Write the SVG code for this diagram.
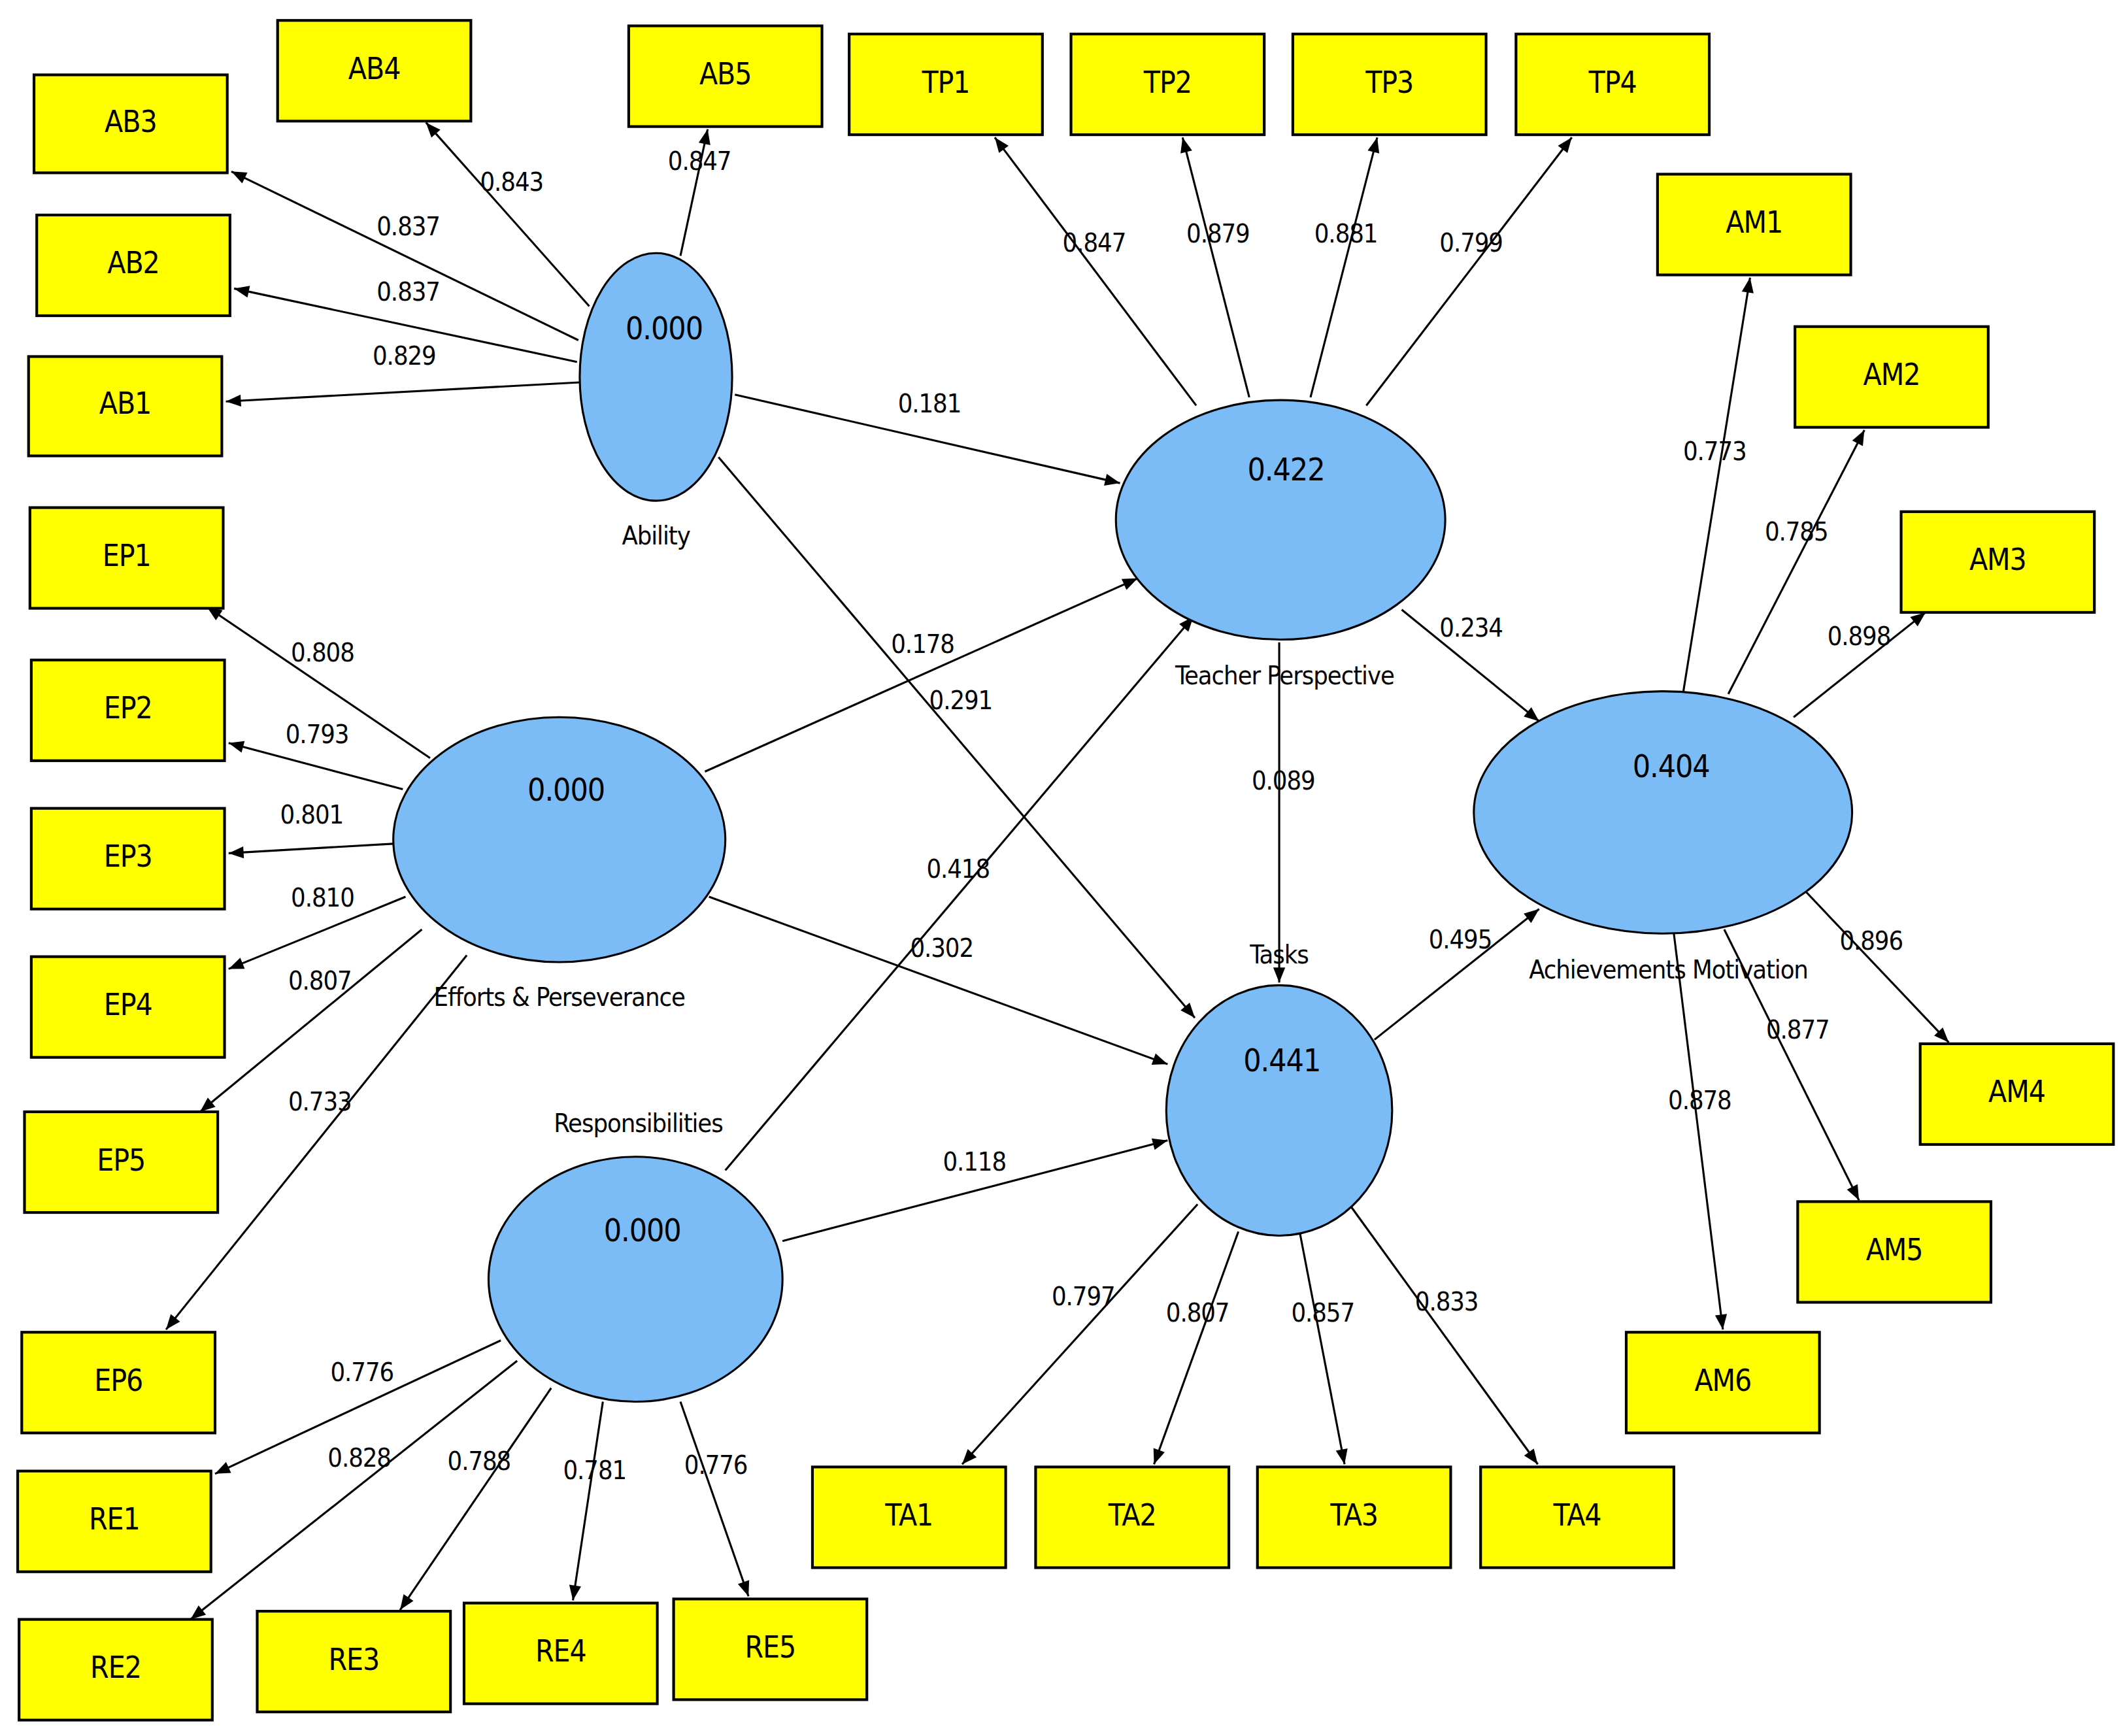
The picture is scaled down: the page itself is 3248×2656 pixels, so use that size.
<svg xmlns="http://www.w3.org/2000/svg" width="3248" height="2656" viewBox="0 0 3248 2656">
<style>
.b{fill:#ffff00;stroke:#000;stroke-width:2}
.e{fill:#7bbcf7;stroke:#000;stroke-width:1.5}
text{font-family:"DejaVu Sans Condensed","Liberation Sans",sans-serif;fill:#000;text-anchor:middle;dominant-baseline:middle;letter-spacing:-0.5px}
.bt{font-size:22px}
.v{font-size:23px}
.l{font-size:19px}
.c line{stroke:#000;stroke-width:1.5;marker-end:url(#a)}
</style>
<defs><marker id="a" viewBox="0 0 10 10" refX="10" refY="5" markerWidth="13" markerHeight="11" markerUnits="userSpaceOnUse" orient="auto"><path d="M0,1 L10,5 L0,9 z" fill="#000"/></marker></defs>
<rect width="3248" height="2656" fill="#fff"/>
<g transform="scale(2.082)">
<g class="c">
<line x1="433" y1="225" x2="313" y2="90"/><line x1="500" y1="188" x2="520" y2="95"/>
<line x1="425" y1="250" x2="170" y2="126"/><line x1="424" y1="266" x2="172" y2="212"/>
<line x1="426" y1="281" x2="166" y2="295"/><line x1="540" y1="290" x2="823" y2="355"/>
<line x1="528" y1="336" x2="878" y2="748"/>
<line x1="316" y1="557" x2="152" y2="446"/><line x1="296" y1="580" x2="168" y2="546"/>
<line x1="289" y1="620" x2="168" y2="627"/><line x1="298" y1="659" x2="168" y2="712"/>
<line x1="310" y1="683" x2="147" y2="817"/><line x1="343" y1="702" x2="122" y2="977"/>
<line x1="518" y1="567" x2="836" y2="425"/><line x1="521" y1="659" x2="858" y2="782"/>
<line x1="879" y1="298" x2="731" y2="101"/><line x1="918" y1="292" x2="869" y2="101"/>
<line x1="963" y1="292" x2="1012" y2="101"/><line x1="1004" y1="298" x2="1155" y2="101"/>
<line x1="1030" y1="448" x2="1131" y2="530"/><line x1="940" y1="472" x2="940" y2="722"/>
<line x1="880" y1="885" x2="707" y2="1076"/><line x1="910" y1="905" x2="848" y2="1076"/>
<line x1="955" y1="905" x2="988" y2="1076"/><line x1="993" y1="887" x2="1130" y2="1076"/>
<line x1="1010" y1="764" x2="1131" y2="668"/>
<line x1="575" y1="912" x2="858" y2="838"/><line x1="533" y1="860" x2="877" y2="453"/>
<line x1="368" y1="985" x2="158" y2="1083"/><line x1="380" y1="1000" x2="140" y2="1190"/>
<line x1="405" y1="1020" x2="294" y2="1183"/><line x1="443" y1="1030" x2="421" y2="1176"/>
<line x1="500" y1="1030" x2="550" y2="1173"/>
<line x1="1237" y1="508" x2="1286" y2="204"/><line x1="1270" y1="510" x2="1370" y2="316"/>
<line x1="1318" y1="527" x2="1415" y2="450"/><line x1="1322" y1="650" x2="1432" y2="766"/>
<line x1="1267" y1="683" x2="1366" y2="882"/><line x1="1230" y1="686" x2="1266" y2="977"/>
</g>
<g class="l">
<text x="376" y="135">0.843</text><text x="514" y="120">0.847</text><text x="300" y="168">0.837</text>
<text x="300" y="216">0.837</text><text x="297" y="263">0.829</text><text x="683" y="298">0.181</text>
<text x="706" y="516">0.291</text><text x="237" y="481">0.808</text><text x="233" y="541">0.793</text>
<text x="229" y="600">0.801</text><text x="237" y="661">0.810</text><text x="235" y="722">0.807</text>
<text x="235" y="811">0.733</text><text x="678" y="475">0.178</text><text x="692" y="698">0.302</text>
<text x="804" y="180">0.847</text><text x="895" y="173">0.879</text><text x="989" y="173">0.881</text>
<text x="1081" y="180">0.799</text><text x="1081" y="463">0.234</text><text x="943" y="575">0.089</text>
<text x="796" y="954">0.797</text><text x="880" y="966">0.807</text><text x="972" y="966">0.857</text>
<text x="1063" y="958">0.833</text><text x="1073" y="692">0.495</text><text x="716" y="855">0.118</text>
<text x="704" y="640">0.418</text><text x="266" y="1010">0.776</text><text x="264" y="1073">0.828</text>
<text x="352" y="1075">0.788</text><text x="437" y="1082">0.781</text><text x="526" y="1078">0.776</text>
<text x="1260" y="333">0.773</text><text x="1320" y="392">0.785</text><text x="1366" y="469">0.898</text>
<text x="1375" y="693">0.896</text><text x="1321" y="758">0.877</text><text x="1249" y="810">0.878</text>
</g>
<g id="ability"><ellipse class="e" cx="482" cy="277" rx="56" ry="91"/><text class="v" x="488" y="243">0.000</text><text class="l" x="482" y="395">Ability</text></g>
<g id="tp"><ellipse class="e" cx="941" cy="382" rx="121" ry="88"/><text class="v" x="945" y="347">0.422</text><text class="l" x="944" y="498">Teacher Perspective</text></g>
<g id="ep"><ellipse class="e" cx="411" cy="617" rx="122" ry="90"/><text class="v" x="416" y="582">0.000</text><text class="l" x="411" y="734">Efforts &amp; Perseverance</text></g>
<g id="am"><ellipse class="e" cx="1222" cy="597" rx="139" ry="89"/><text class="v" x="1228" y="565">0.404</text><text class="l" x="1226" y="714">Achievements Motivation</text></g>
<g id="tasks"><ellipse class="e" cx="940" cy="816" rx="83" ry="92"/><text class="v" x="942" y="781">0.441</text><text class="l" x="940" y="703">Tasks</text></g>
<g id="resp"><ellipse class="e" cx="467" cy="940" rx="108" ry="90"/><text class="v" x="472" y="906">0.000</text><text class="l" x="469" y="827">Responsibilities</text></g>
<g id="AB3"><rect class="b" x="25" y="55" width="142" height="72"/><text class="bt" x="96" y="91">AB3</text></g>
<g id="AB4"><rect class="b" x="204" y="15" width="142" height="74"/><text class="bt" x="275" y="52">AB4</text></g>
<g id="AB5"><rect class="b" x="462" y="19" width="142" height="74"/><text class="bt" x="533" y="56">AB5</text></g>
<g id="AB2"><rect class="b" x="27" y="158" width="142" height="74"/><text class="bt" x="98" y="195">AB2</text></g>
<g id="AB1"><rect class="b" x="21" y="262" width="142" height="73"/><text class="bt" x="92" y="298">AB1</text></g>
<g id="TP1"><rect class="b" x="624" y="25" width="142" height="74"/><text class="bt" x="695" y="62">TP1</text></g>
<g id="TP2"><rect class="b" x="787" y="25" width="142" height="74"/><text class="bt" x="858" y="62">TP2</text></g>
<g id="TP3"><rect class="b" x="950" y="25" width="142" height="74"/><text class="bt" x="1021" y="62">TP3</text></g>
<g id="TP4"><rect class="b" x="1114" y="25" width="142" height="74"/><text class="bt" x="1185" y="62">TP4</text></g>
<g id="AM1"><rect class="b" x="1218" y="128" width="142" height="74"/><text class="bt" x="1289" y="165">AM1</text></g>
<g id="AM2"><rect class="b" x="1319" y="240" width="142" height="74"/><text class="bt" x="1390" y="277">AM2</text></g>
<g id="AM3"><rect class="b" x="1397" y="376" width="142" height="74"/><text class="bt" x="1468" y="413">AM3</text></g>
<g id="AM4"><rect class="b" x="1411" y="767" width="142" height="74"/><text class="bt" x="1482" y="804">AM4</text></g>
<g id="AM5"><rect class="b" x="1321" y="883" width="142" height="74"/><text class="bt" x="1392" y="920">AM5</text></g>
<g id="AM6"><rect class="b" x="1195" y="979" width="142" height="74"/><text class="bt" x="1266" y="1016">AM6</text></g>
<g id="EP1"><rect class="b" x="22" y="373" width="142" height="74"/><text class="bt" x="93" y="410">EP1</text></g>
<g id="EP2"><rect class="b" x="23" y="485" width="142" height="74"/><text class="bt" x="94" y="522">EP2</text></g>
<g id="EP3"><rect class="b" x="23" y="594" width="142" height="74"/><text class="bt" x="94" y="631">EP3</text></g>
<g id="EP4"><rect class="b" x="23" y="703" width="142" height="74"/><text class="bt" x="94" y="740">EP4</text></g>
<g id="EP5"><rect class="b" x="18" y="817" width="142" height="74"/><text class="bt" x="89" y="854">EP5</text></g>
<g id="EP6"><rect class="b" x="16" y="979" width="142" height="74"/><text class="bt" x="87" y="1016">EP6</text></g>
<g id="RE1"><rect class="b" x="13" y="1081" width="142" height="74"/><text class="bt" x="84" y="1118">RE1</text></g>
<g id="RE2"><rect class="b" x="14" y="1190" width="142" height="74"/><text class="bt" x="85" y="1227">RE2</text></g>
<g id="RE3"><rect class="b" x="189" y="1184" width="142" height="74"/><text class="bt" x="260" y="1221">RE3</text></g>
<g id="RE4"><rect class="b" x="341" y="1178" width="142" height="74"/><text class="bt" x="412" y="1215">RE4</text></g>
<g id="RE5"><rect class="b" x="495" y="1175" width="142" height="74"/><text class="bt" x="566" y="1212">RE5</text></g>
<g id="TA1"><rect class="b" x="597" y="1078" width="142" height="74"/><text class="bt" x="668" y="1115">TA1</text></g>
<g id="TA2"><rect class="b" x="761" y="1078" width="142" height="74"/><text class="bt" x="832" y="1115">TA2</text></g>
<g id="TA3"><rect class="b" x="924" y="1078" width="142" height="74"/><text class="bt" x="995" y="1115">TA3</text></g>
<g id="TA4"><rect class="b" x="1088" y="1078" width="142" height="74"/><text class="bt" x="1159" y="1115">TA4</text></g>
</g>
</svg>
